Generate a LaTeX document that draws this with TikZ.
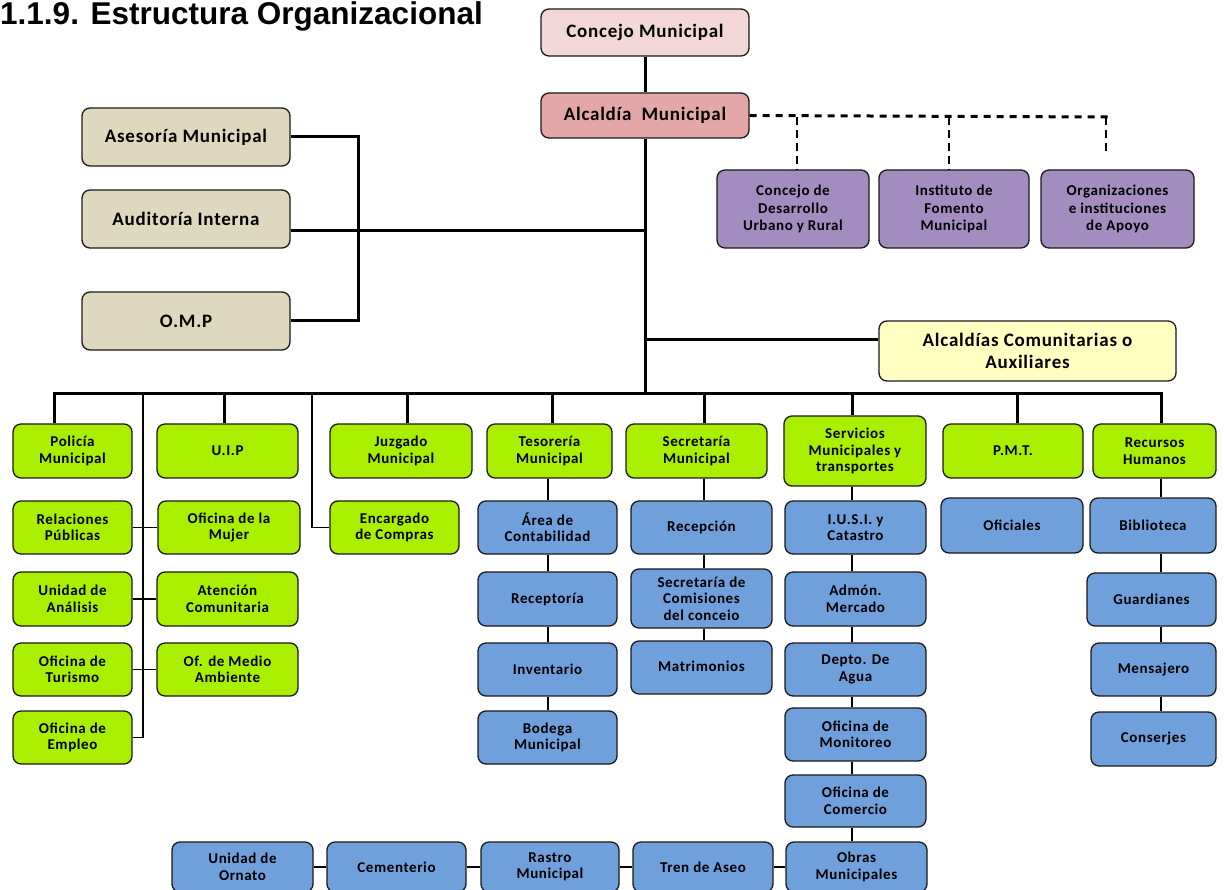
\documentclass[tikz,border=0pt]{standalone}
\usepackage{fontspec}
\newfontfamily\boxfont{Carlito}[LetterSpace=4]
\newfontfamily\titlefont{Liberation Sans}
\definecolor{cpink}{HTML}{F2D6D8}
\definecolor{cred}{HTML}{E2A7A6}
\definecolor{ctan}{HTML}{DDD8BE}
\definecolor{cpurp}{HTML}{A38DBE}
\definecolor{cyel}{HTML}{FFFFC2}
\definecolor{cgrn}{HTML}{AAEE00}
\definecolor{cblu}{HTML}{70A0DC}
\definecolor{cline}{HTML}{1A1A1A}
\tikzset{
  orgbox/.style={draw=cline, line width=1.3pt, rounded corners=8pt, inner sep=2pt, align=center,
    font=\boxfont\bfseries\fontsize{15}{16.5}\selectfont, text=black},
  bigbox/.style={orgbox, font=\boxfont\bfseries\fontsize{19}{22}\selectfont},
  grnbox/.style={orgbox, fill=cgrn},
  blubox/.style={orgbox, fill=cblu},
  purbox/.style={orgbox, fill=cpurp, font=\boxfont\bfseries\fontsize{15}{17.5}\selectfont},
  wline/.style={draw=black, line width=3pt},
  mline/.style={draw=black, line width=1.8pt},
  tline/.style={draw=black, line width=1.4pt},
  dline/.style={draw=black, line width=3pt, dash pattern=on 7pt off 6pt},
  dvline/.style={draw=black, line width=2pt, dash pattern=on 8pt off 5pt},
}
\begin{document}
\begin{tikzpicture}[x=1pt,y=-1pt]
\fill[white] (0,0) rectangle (1224,890);
\useasboundingbox (0,0) rectangle (1224,890);

\node[anchor=base west, inner sep=0pt, font=\titlefont\bfseries\fontsize{31.5}{32}\selectfont] (title) at (0,25) {1.1.9. Estructura Organizacional};

% top
\node[bigbox, fill=cpink, minimum width=208pt, minimum height=47pt] (conc) at (645,32.5) {\raisebox{3pt}{Concejo Municipal}};
\node[bigbox, fill=cred, minimum width=208pt, minimum height=45pt] (alc) at (645,115.5) {\raisebox{3pt}{Alcaldía~ Municipal}};
\node[bigbox, fill=ctan, minimum width=208pt, minimum height=58pt] (ases) at (186,137) {Asesoría Municipal};
\node[bigbox, fill=ctan, minimum width=208pt, minimum height=58pt] (audi) at (186,219) {Auditoría Interna};
\node[bigbox, fill=ctan, minimum width=208pt, minimum height=58pt] (omp) at (186,321) {O.M.P};
\node[purbox, minimum width=152pt, minimum height=78pt] (cdur) at (793,209) {Concejo de\\Desarrollo\\Urbano y Rural};
\node[purbox, minimum width=150pt, minimum height=78pt] (ifm) at (954,209) {Instituto de\\Fomento\\Municipal};
\node[purbox, minimum width=153pt, minimum height=78pt] (org) at (1117.5,209) {Organizaciones\\e instituciones\\de Apoyo};
\node[bigbox, fill=cyel, minimum width=297pt, minimum height=60pt] (acom) at (1027.5,351) {Alcaldías Comunitarias o\\Auxiliares};

% row 1
\node[grnbox, minimum width=119pt, minimum height=54pt] (pol) at (72.5,451) {Policía\\Municipal};
\node[grnbox, minimum width=141pt, minimum height=54pt] (uip) at (227.5,451) {U.I.P};
\node[grnbox, minimum width=142pt, minimum height=54pt] (juz) at (401,451) {Juzgado\\Municipal};
\node[grnbox, minimum width=125pt, minimum height=54pt] (tes) at (549.5,451) {Tesorería\\Municipal};
\node[grnbox, minimum width=141pt, minimum height=54pt] (sec) at (696.5,451) {Secretaría\\Municipal};
\node[grnbox, minimum width=142pt, minimum height=70pt] (serv) at (855,451) {Servicios\\Municipales y\\transportes};
\node[grnbox, minimum width=140pt, minimum height=54pt] (pmt) at (1013,451) {P.M.T.};
\node[grnbox, minimum width=123pt, minimum height=54pt] (rrhh) at (1154.5,451) {Recursos\\Humanos};

% row 2
\node[grnbox, minimum width=119pt, minimum height=53pt] (rel) at (72.5,527.5) {Relaciones\\Públicas};
\node[grnbox, minimum width=142pt, minimum height=53pt] (muj) at (229,527.5) {Oficina de la\\Mujer};
\node[grnbox, minimum width=129pt, minimum height=53pt] (enc) at (394.5,527.5) {Encargado\\de Compras};
\node[blubox, minimum width=139pt, minimum height=53pt] (area) at (547.5,527.5) {Área de\\Contabilidad};
\node[blubox, minimum width=141pt, minimum height=53pt] (recp) at (701.5,527.5) {Recepción};
\node[blubox, minimum width=141pt, minimum height=53pt] (iusi) at (855.5,527.5) {I.U.S.I. y\\Catastro};
\node[blubox, minimum width=142pt, minimum height=55pt] (ofi) at (1012,525.5) {Oficiales};
\node[blubox, minimum width=126pt, minimum height=55pt] (bib) at (1153,525.5) {Biblioteca};

% row 3
\node[grnbox, minimum width=119pt, minimum height=54pt] (una) at (72.5,599) {Unidad de\\Análisis};
\node[grnbox, minimum width=141pt, minimum height=54pt] (aten) at (227.5,599) {Atención\\Comunitaria};
\node[blubox, minimum width=139pt, minimum height=54pt] (rcpt) at (547.5,599) {Receptoría};
\node[blubox, minimum width=141pt, minimum height=59pt] (scom) at (701.5,598.5) {Secretaría de\\Comisiones\\del conceio};
\node[blubox, minimum width=141pt, minimum height=54pt] (adm) at (855.5,599) {Admón.\\Mercado};
\node[blubox, minimum width=129pt, minimum height=53pt] (guar) at (1151.5,599.5) {Guardianes};

% row 4
\node[grnbox, minimum width=119pt, minimum height=53pt] (tur) at (72.5,669.5) {Oficina de\\Turismo};
\node[grnbox, minimum width=141pt, minimum height=53pt] (amb) at (227.5,669.5) {Of. de Medio\\Ambiente};
\node[blubox, minimum width=139pt, minimum height=53pt] (inv) at (547.5,669.5) {Inventario};
\node[blubox, minimum width=141pt, minimum height=53pt] (mat) at (701.5,667.5) {\raisebox{3pt}{Matrimonios}};
\node[blubox, minimum width=141pt, minimum height=53pt] (agua) at (855.5,669.5) {Depto. De\\Agua};
\node[blubox, minimum width=125pt, minimum height=53pt] (mens) at (1153.5,669.5) {Mensajero};

% row 5
\node[grnbox, minimum width=119pt, minimum height=53pt] (emp) at (72.5,737.5) {Oficina de\\Empleo};
\node[blubox, minimum width=139pt, minimum height=53pt] (bod) at (547.5,737.5) {Bodega\\Municipal};
\node[blubox, minimum width=141pt, minimum height=53pt] (mon) at (855.5,734.5) {Oficina de\\Monitoreo};
\node[blubox, minimum width=125pt, minimum height=54pt] (cons) at (1153.5,739) {Conserjes};

% row 6/7
\node[blubox, minimum width=141pt, minimum height=52pt] (com) at (855.5,801) {Oficina de\\Comercio};
\node[blubox, minimum width=141pt, minimum height=50pt] (orn) at (242.5,867) {Unidad de\\Ornato};
\node[blubox, minimum width=139pt, minimum height=50pt] (cem) at (396.5,867) {Cementerio};
\node[blubox, minimum width=138pt, minimum height=50pt] (ras) at (550,867) {Rastro\\Municipal};
\node[blubox, minimum width=140pt, minimum height=50pt] (tren) at (703,867) {Tren de Aseo};
\node[blubox, minimum width=141pt, minimum height=50pt] (obras) at (856.5,867) {Obras\\Municipales};

% coordinates
\coordinate (tA) at (645,231);
\coordinate (tB) at (645,394);
\coordinate (aw) at ([yshift=11pt]acom.west);
\coordinate (q1) at (797,117);
\coordinate (q2) at (949,117);
\coordinate (q3) at (1106,117);
\coordinate (q3e) at (1106,155);
\coordinate (dE) at (1109,117);
\coordinate (d1) at (54,394);
\coordinate (d2) at (224,394);
\coordinate (d3) at (407,394);
\coordinate (d4) at (552,394);
\coordinate (d5) at (704,394);
\coordinate (d6) at (852,394);
\coordinate (d7) at (1017,394);
\coordinate (d10) at (1161,394);
\coordinate (L1) at (143,394);
\coordinate (L2) at (312,394);
\coordinate (cT) at (548,0);
\coordinate (cS) at (704,0);
\coordinate (cV) at (852,0);
\coordinate (cR) at (1161,0);

% main trunk
\draw[wline] (conc.south) -- (alc.north);
\draw[wline] (alc.south) -- (tB);
\draw[wline] (ases.east) -- ++(68,0) |- (omp.east);
\draw[wline] (audi.east |- tA) -- (tA);
\draw[wline] (aw) -- (aw -| tB);

% dashed
\draw[dline] (alc.east) -- (dE);
\draw[dvline] (q1) -- (q1 |- cdur.north);
\draw[dvline] (q2) -- (q2 |- ifm.north);
\draw[dvline] (q3) -- (q3e);

% bus
\draw[wline] (d1 |- pol.north) -- (d1) -- (d10) -- (d10 |- rrhh.north);
\draw[wline] (d2) -- (d2 |- uip.north);
\draw[wline] (d3) -- (d3 |- juz.north);
\draw[wline] (d4) -- (d4 |- tes.north);
\draw[wline] (d5) -- (d5 |- sec.north);
\draw[wline] (d6) -- (d6 |- serv.north);
\draw[wline] (d7) -- (d7 |- pmt.north);

% left thin lines
\draw[tline] (L1) -- (L1 |- emp.east) -- (emp.east);
\draw[tline] (rel.east) -- (muj.west);
\draw[tline] (una.east) -- (aten.west);
\draw[tline] (tur.east) -- (amb.west);
\draw[tline] (L2) |- (enc.west);

% columns
\draw[mline] (tes.south -| cT) -- (area.north -| cT);
\draw[mline] (area.south -| cT) -- (rcpt.north -| cT);
\draw[mline] (rcpt.south -| cT) -- (inv.north -| cT);
\draw[mline] (inv.south -| cT) -- (bod.north -| cT);

\draw[mline] (sec.south -| cS) -- (recp.north -| cS);
\draw[mline] (recp.south -| cS) -- (scom.north -| cS);
\draw[mline] (scom.south -| cS) -- (mat.north -| cS);

\draw[mline] (serv.south -| cV) -- (iusi.north -| cV);
\draw[mline] (iusi.south -| cV) -- (adm.north -| cV);
\draw[mline] (adm.south -| cV) -- (agua.north -| cV);
\draw[mline] (agua.south -| cV) -- (mon.north -| cV);
\draw[mline] (mon.south -| cV) -- (com.north -| cV);
\draw[mline] (com.south -| cV) -- (obras.north -| cV);

\draw[mline] (rrhh.south -| cR) -- (bib.north -| cR);
\draw[mline] (bib.south -| cR) -- (guar.north -| cR);
\draw[mline] (guar.south -| cR) -- (mens.north -| cR);
\draw[mline] (mens.south -| cR) -- (cons.north -| cR);

% bottom row
\draw[tline] (obras.west) -- (tren.east);
\draw[tline] (tren.west) -- (ras.east);
\draw[tline] (ras.west) -- (cem.east);
\draw[tline] (cem.west) -- (orn.east);
\end{tikzpicture}
\end{document}
